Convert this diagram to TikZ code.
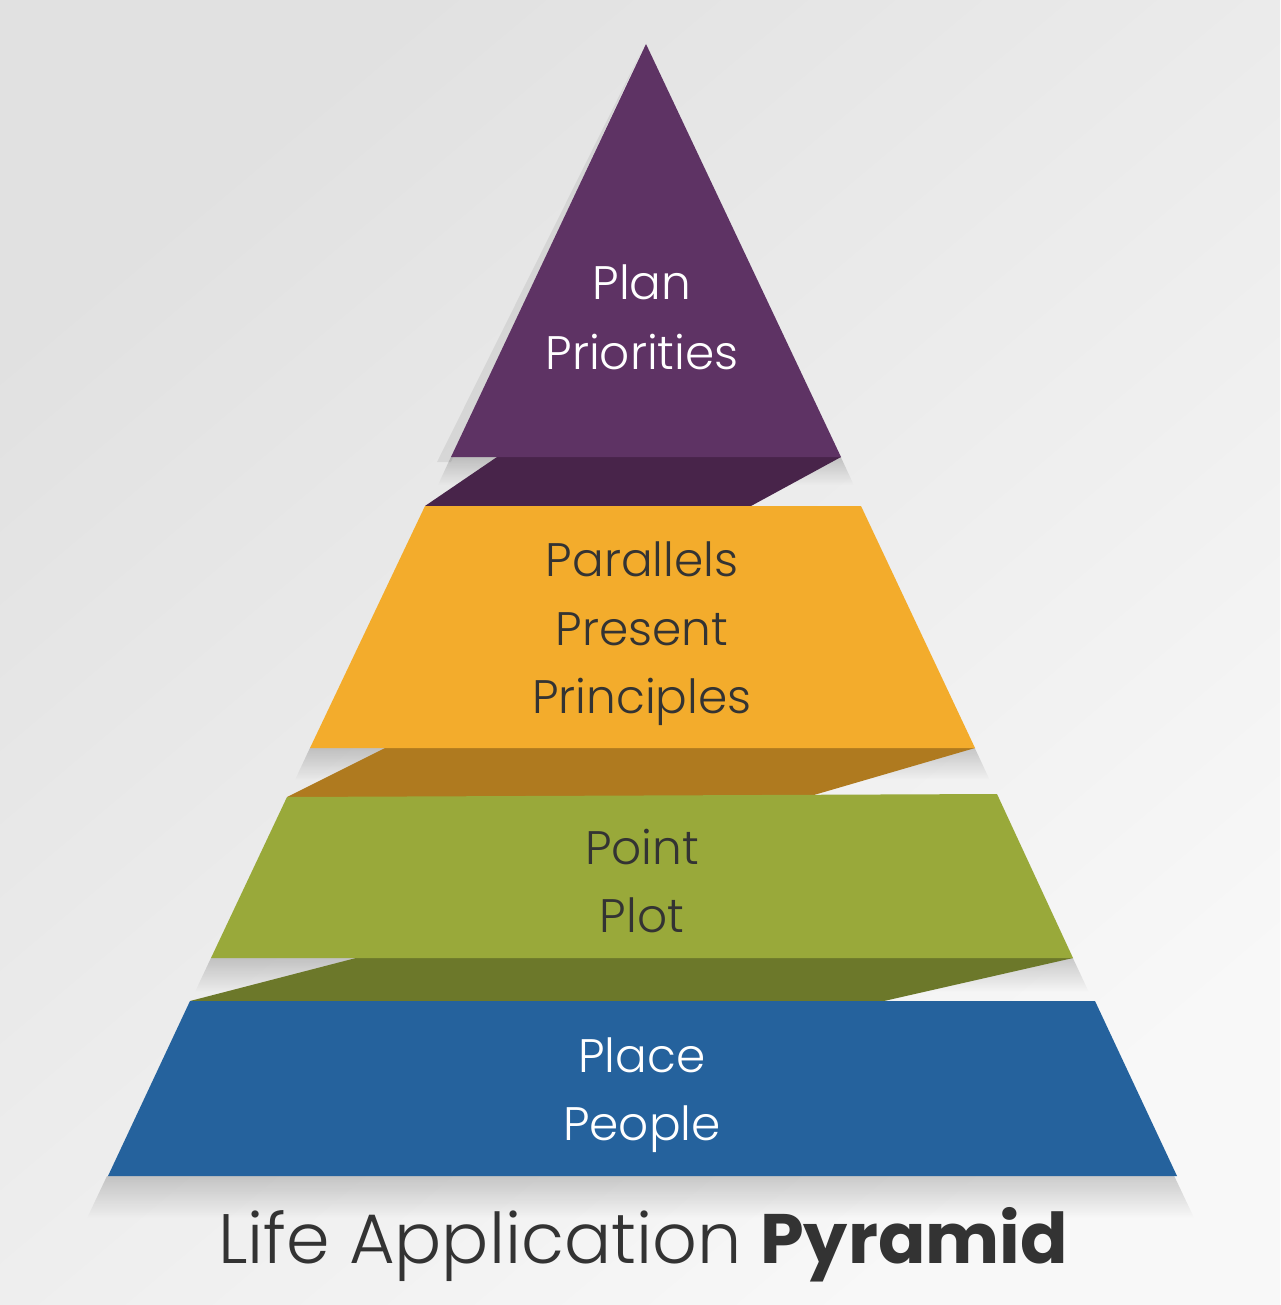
\documentclass[tikz,border=0pt]{standalone}
\usepackage{fontspec}
\setmainfont{Poppins}
\newfontfamily\lightfont{Poppins Light}
\usetikzlibrary{fadings}
\definecolor{bgA}{HTML}{E1E1E1}
\definecolor{bgB}{HTML}{F8F8F8}
\definecolor{purpleface}{HTML}{5E3364}
\definecolor{purplefold}{HTML}{48244A}
\definecolor{orangeface}{HTML}{F3AC2C}
\definecolor{orangefold}{HTML}{AF7A1F}
\definecolor{greenface}{HTML}{99A93A}
\definecolor{greenfold}{HTML}{6C782A}
\definecolor{blueface}{HTML}{25629D}
\definecolor{darktext}{HTML}{333333}
\tikzfading[name=shfade, top color=transparent!60, bottom color=transparent!100]
\tikzset{
  shadowpoly/.style={fill=black, opacity=0.45, path fading=shfade},
  lbl/.style={anchor=base, inner sep=0pt, font=\lightfont\fontsize{47}{56}\selectfont},
  lightlbl/.style={lbl, text=white},
  darklbl/.style={lbl, text=darktext},
}
\begin{document}
\begin{tikzpicture}[x=1pt,y=-1pt]
\useasboundingbox (0,0) rectangle (1280,1305);
\shade[top color=bgA, bottom color=bgB, shading angle=40] (0,0) rectangle (1280,1305);

% shadows
\fill[black, opacity=0.07] (641,52) -- (451,462) -- (437,462) -- cycle;
\fill[shadowpoly] (451,457) -- (841,457) -- (854,485) -- (438,485) -- cycle;
\fill[shadowpoly] (310,748) -- (975,748) -- (990,780) -- (295,780) -- cycle;
\fill[shadowpoly] (211,958) -- (1073,958) -- (1089,992) -- (195,992) -- cycle;
\fill[shadowpoly] (108,1176) -- (1177,1176) -- (1197,1218) -- (88,1218) -- cycle;

% folds
\fill[purplefold] (497,457) -- (841,457) -- (751,506) -- (425,506) -- cycle;
\fill[orangefold] (385,748) -- (975,748) -- (807,797) -- (287,797) -- cycle;
\fill[greenfold] (356,958) -- (1073,958) -- (884,1001) -- (190,1001) -- cycle;

% faces
\fill[purpleface] (646,44) -- (841,457) -- (451,457) -- cycle;
\fill[orangeface] (425,506) -- (861,506) -- (975,748) -- (310,748) -- cycle;
\fill[greenface] (287,797) -- (997,794) -- (1073,958) -- (211,958) -- cycle;
\fill[blueface] (190,1001) -- (1095,1001) -- (1177,1176) -- (108,1176) -- cycle;

% labels
\node[lightlbl] (plan) at (642,300) {Plan};
\node[lightlbl] (priorities) at (642,369) {Priorities};
\node[darklbl] (parallels) at (642,576) {Parallels};
\node[darklbl] (present) at (642,645) {Present};
\node[darklbl] (principles) at (642,713) {Principles};
\node[darklbl] (point) at (642,864) {Point};
\node[darklbl] (plot) at (642,932) {Plot};
\node[lightlbl] (place) at (642,1072) {Place};
\node[lightlbl] (people) at (642,1140) {People};

% title
\node[anchor=base, inner sep=0pt, text=darktext, font=\fontsize{70}{84}\selectfont] (title) at (643,1263)
  {{\lightfont Life Application} \textbf{Pyramid}};
\end{tikzpicture}
\end{document}
